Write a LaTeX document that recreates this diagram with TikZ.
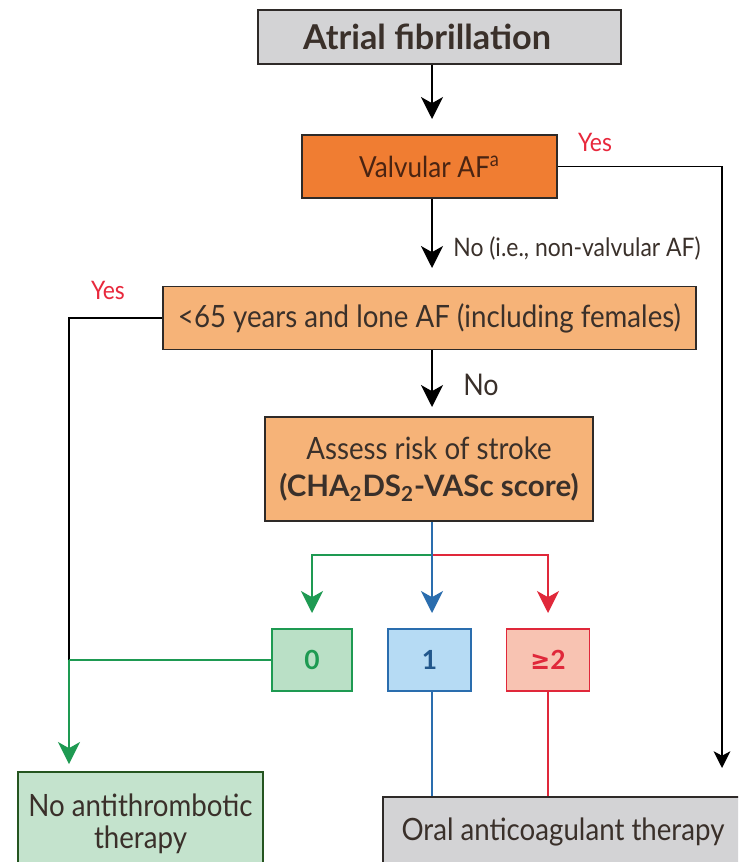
\documentclass[tikz,border=0pt]{standalone}
\usepackage{fontspec}
\setmainfont{Lato}[FakeStretch=0.9]
\newfontfamily\wfam{Lato}[FakeStretch=1.0]
\newfontfamily\symf{DejaVu Sans}[FakeStretch=0.9]
\usetikzlibrary{arrows.meta}
\definecolor{edge}{HTML}{2E2A28}
\definecolor{txt}{HTML}{3A302A}
\definecolor{vtxt}{HTML}{4A2412}
\definecolor{grayfill}{HTML}{D3D3D5}
\definecolor{orangeA}{HTML}{F07D32}
\definecolor{orangeB}{HTML}{F6B378}
\definecolor{gline}{HTML}{1E9A52}
\definecolor{bline}{HTML}{2A6DAE}
\definecolor{rline}{HTML}{E0283A}
\definecolor{gfill}{HTML}{BAE0C6}
\definecolor{bfill}{HTML}{B6DBF4}
\definecolor{rfill}{HTML}{F8C3B2}
\definecolor{ntfill}{HTML}{C4E3CD}
\definecolor{yesred}{HTML}{E8283C}
\tikzset{
  box/.style={draw=edge, line width=1.1pt, align=center, inner sep=0pt, text=txt,
    font=\fontsize{17.5}{21}\selectfont},
  ln/.style={line width=1.1pt},
  arr/.style={ln, -{Stealth[width=12.5pt,length=12.5pt,inset=3.5pt]}},
  numbox/.style={box, minimum width=1.66cm, minimum height=1.24cm,
    font=\wfam\fontsize{15}{17}\selectfont\bfseries},
  yeslbl/.style={text=yesred, font=\fontsize{14.5}{16}\selectfont, inner sep=0pt},
  nolbl/.style={text=txt, font=\fontsize{14.5}{16}\selectfont, inner sep=0pt, anchor=west},
}
\begin{document}
\begin{tikzpicture}[x=0.02cm,y=-0.02cm]
\useasboundingbox (0,0) rectangle (738,862);
\clip (0,0) rectangle (738,862);
\fill[white] (0,0) rectangle (738,862);

% boxes
\node[box, fill=grayfill, minimum width=7.26cm, minimum height=1.08cm,
  font=\wfam\fontsize{19.5}{22}\selectfont\bfseries] (AF) at (439.5,37)
  {Atrial fibrillation\hspace*{0.5cm}};
\node[box, fill=orangeA, text=vtxt, minimum width=5.1cm, minimum height=1.26cm,
  font=\fontsize{16.5}{19}\selectfont] (VAF) at (429.5,166.5)
  {Valvular AF\textsuperscript{a}};
\node[box, fill=orangeB, minimum width=10.68cm, minimum height=1.26cm] (L65) at (429.5,318)
  {<65 years and lone AF (including females)};
\node[box, fill=orangeB, minimum width=6.56cm, minimum height=2.08cm] (AS) at (429,469)
  {Assess risk of stroke\\{\wfam\fontsize{16.8}{21}\selectfont\bfseries (CHA\textsubscript{2}DS\textsubscript{2}-VASc score)}};
\node[numbox, draw=gline, fill=gfill, text=gline, minimum width=1.6cm] (B0) at (312,660) {0};
\node[numbox, draw=bline, fill=bfill, text=bline!80!black] (B1) at (429.5,660) {1};
\node[numbox, draw=rline, fill=rfill, text=rline] (B2) at (548,660) {{\symf\bfseries ≥}2};
\node[box, draw=edge!80!green, fill=ntfill, minimum width=4.9cm, minimum height=2.08cm,
  font=\fontsize{17.5}{18.5}\selectfont] (NT) at (140.5,824)
  {No antithrombotic\\therapy};
\node[box, fill=grayfill, minimum width=7.2cm, minimum height=1.4cm] (OA) at (563,832)
  {Oral anticoagulant therapy};

% coordinates
\coordinate (t1) at (432,119);
\coordinate (t2) at (432,268);
\coordinate (t3) at (722,768);
\coordinate (t4) at (432,407);
\coordinate (j0) at (69,660);
\coordinate (t5) at (69,764);
\coordinate (br) at (432,555);
\coordinate (t6) at (432,613);
\coordinate (t7) at (312,613);
\coordinate (t8) at (548,613);

% connectors
\draw[arr] (AF.south -| t1) -- (t1);
\draw[arr] (VAF.south -| t2) -- (t2);
\draw[ln, -{Stealth[width=9.5pt,length=9.5pt,inset=2.5pt]}] (VAF.east) -| (t3);
\draw[arr] (L65.south -| t4) -- (t4);
\draw[ln] (L65.west) -| (j0);
\draw[ln, draw=gline] (B0.west) -- (j0);
\draw[arr, draw=gline] (j0) -- (t5);
\draw[arr, draw=gline] (br) -| (t7);
\draw[arr, draw=rline] (br) -| (t8);
\draw[arr, draw=bline] (AS.south -| t6) -- (t6);
\draw[ln, draw=bline] (B1.south -| br) -- (OA.north -| br);
\draw[ln, draw=rline] (B2.south -| t8) -- (OA.north -| t8);

% labels
\node[yeslbl] (y1) at (595,142) {Yes};
\node[yeslbl] (y2) at (108,290) {Yes};
\node[nolbl] (n1) at (453,248) {No (i.e., non-valvular AF)};
\node[nolbl, font=\fontsize{17}{19}\selectfont] (n2) at (463,385) {No};
\end{tikzpicture}
\end{document}
